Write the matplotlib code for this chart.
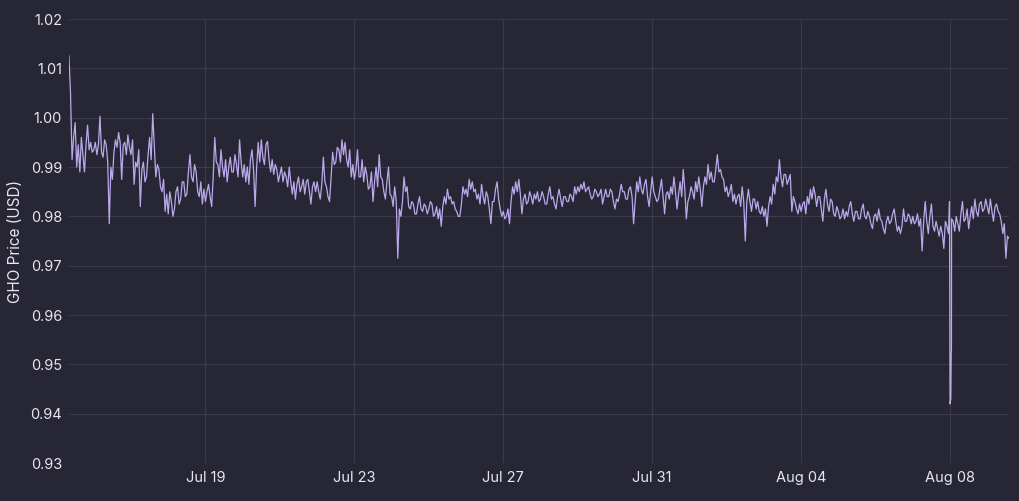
import pandas as pd
import matplotlib
matplotlib.use("Agg")
import matplotlib.pyplot as plt
import matplotlib.dates as mdates
from matplotlib.ticker import FormatStrFormatter

# GHO price, hourly readings taken off the chart (first day starts at 08:00)
jul15 = [1.0125, 1.0050, 0.9915, 0.9960, 0.9990, 0.9900, 0.9945, 0.9890,
         0.9960, 0.9925, 0.9890, 0.9945, 0.9985, 0.9935, 0.9950, 0.9930]
jul16 = [0.9935, 0.9950, 0.9925, 0.9945, 1.0003, 0.9930, 0.9920, 0.9955, 0.9945, 0.9910, 0.9785, 0.9900,
         0.9875, 0.9930, 0.9955, 0.9940, 0.9970, 0.9950, 0.9875, 0.9945, 0.9950, 0.9925, 0.9965, 0.9940]
jul17 = [0.9925, 0.9955, 0.9865, 0.9910, 0.9900, 0.9935, 0.9820, 0.9895, 0.9910, 0.9870, 0.9880, 0.9925,
         0.9960, 0.9915, 1.0008, 0.9945, 0.9880, 0.9905, 0.9895, 0.9860, 0.9850, 0.9875, 0.9810, 0.9845]
jul18 = [0.9805, 0.9850, 0.9830, 0.9800, 0.9815, 0.9850, 0.9860, 0.9825, 0.9835, 0.9870, 0.9870, 0.9840,
         0.9845, 0.9890, 0.9925, 0.9880, 0.9870, 0.9905, 0.9890, 0.9850, 0.9840, 0.9870, 0.9825, 0.9855]
jul19 = [0.9830, 0.9850, 0.9865, 0.9840, 0.9820, 0.9880, 0.9960, 0.9910, 0.9905, 0.9880, 0.9935, 0.9900,
         0.9880, 0.9915, 0.9870, 0.9900, 0.9920, 0.9890, 0.9890, 0.9925, 0.9905, 0.9880, 0.9955, 0.9910]
jul20 = [0.9880, 0.9905, 0.9870, 0.9900, 0.9865, 0.9915, 0.9935, 0.9895, 0.9820, 0.9900, 0.9950, 0.9910,
         0.9955, 0.9920, 0.9905, 0.9945, 0.9952, 0.9915, 0.9890, 0.9915, 0.9885, 0.9905, 0.9895, 0.9870]
jul21 = [0.9885, 0.9900, 0.9870, 0.9890, 0.9880, 0.9860, 0.9900, 0.9870, 0.9845, 0.9870, 0.9835, 0.9865,
         0.9880, 0.9850, 0.9860, 0.9875, 0.9845, 0.9870, 0.9875, 0.9850, 0.9825, 0.9860, 0.9870, 0.9850]
jul22 = [0.9870, 0.9850, 0.9835, 0.9865, 0.9920, 0.9870, 0.9860, 0.9840, 0.9830, 0.9880, 0.9930, 0.9905,
         0.9910, 0.9940, 0.9935, 0.9910, 0.9955, 0.9925, 0.9950, 0.9915, 0.9900, 0.9935, 0.9880, 0.9905]
jul23 = [0.9875, 0.9895, 0.9935, 0.9880, 0.9880, 0.9915, 0.9870, 0.9900, 0.9885, 0.9855, 0.9860, 0.9890,
         0.9830, 0.9870, 0.9900, 0.9860, 0.9925, 0.9880, 0.9875, 0.9850, 0.9835, 0.9870, 0.9900, 0.9845]
jul24 = [0.9840, 0.9820, 0.9860, 0.9830, 0.9715, 0.9815, 0.9800, 0.9830, 0.9880, 0.9850, 0.9860, 0.9820,
         0.9815, 0.9830, 0.9825, 0.9805, 0.9805, 0.9825, 0.9840, 0.9815, 0.9810, 0.9825, 0.9820, 0.9805]
jul25 = [0.9815, 0.9830, 0.9825, 0.9800, 0.9805, 0.9820, 0.9795, 0.9815, 0.9780, 0.9820, 0.9840, 0.9825,
         0.9855, 0.9835, 0.9840, 0.9825, 0.9830, 0.9815, 0.9810, 0.9800, 0.9800, 0.9825, 0.9860, 0.9845]
jul26 = [0.9855, 0.9840, 0.9875, 0.9855, 0.9870, 0.9850, 0.9855, 0.9835, 0.9845, 0.9825, 0.9865, 0.9840,
         0.9825, 0.9850, 0.9840, 0.9815, 0.9785, 0.9830, 0.9830, 0.9855, 0.9870, 0.9835, 0.9815, 0.9800]
jul27 = [0.9810, 0.9795, 0.9800, 0.9815, 0.9785, 0.9830, 0.9860, 0.9845, 0.9870, 0.9850, 0.9875, 0.9845,
         0.9805, 0.9835, 0.9845, 0.9825, 0.9830, 0.9850, 0.9840, 0.9825, 0.9845, 0.9835, 0.9850, 0.9830]
jul28 = [0.9835, 0.9850, 0.9840, 0.9825, 0.9825, 0.9845, 0.9860, 0.9835, 0.9840, 0.9825, 0.9815, 0.9840,
         0.9855, 0.9835, 0.9820, 0.9840, 0.9840, 0.9830, 0.9830, 0.9845, 0.9840, 0.9830, 0.9860, 0.9845]
jul29 = [0.9860, 0.9850, 0.9865, 0.9855, 0.9870, 0.9850, 0.9855, 0.9860, 0.9845, 0.9835, 0.9840, 0.9855,
         0.9850, 0.9840, 0.9845, 0.9855, 0.9825, 0.9840, 0.9855, 0.9840, 0.9840, 0.9855, 0.9850, 0.9830]
jul30 = [0.9815, 0.9835, 0.9830, 0.9845, 0.9865, 0.9850, 0.9850, 0.9835, 0.9835, 0.9855, 0.9860, 0.9840,
         0.9785, 0.9830, 0.9870, 0.9850, 0.9880, 0.9855, 0.9845, 0.9865, 0.9875, 0.9840, 0.9820, 0.9850]
jul31 = [0.9880, 0.9850, 0.9840, 0.9830, 0.9835, 0.9855, 0.9875, 0.9840, 0.9805, 0.9845, 0.9850, 0.9835,
         0.9860, 0.9845, 0.9880, 0.9850, 0.9815, 0.9845, 0.9870, 0.9840, 0.9895, 0.9855, 0.9795, 0.9830]
aug01 = [0.9840, 0.9860, 0.9850, 0.9835, 0.9870, 0.9850, 0.9880, 0.9855, 0.9820, 0.9860, 0.9880, 0.9865,
         0.9905, 0.9875, 0.9890, 0.9870, 0.9870, 0.9895, 0.9925, 0.9890, 0.9895, 0.9880, 0.9875, 0.9850]
aug02 = [0.9860, 0.9840, 0.9850, 0.9865, 0.9830, 0.9845, 0.9825, 0.9840, 0.9845, 0.9820, 0.9860, 0.9830,
         0.9750, 0.9830, 0.9855, 0.9830, 0.9810, 0.9835, 0.9835, 0.9815, 0.9830, 0.9810, 0.9805, 0.9820]
aug03 = [0.9800, 0.9815, 0.9780, 0.9820, 0.9840, 0.9825, 0.9865, 0.9845, 0.9880, 0.9870, 0.9915, 0.9880,
         0.9860, 0.9885, 0.9885, 0.9865, 0.9875, 0.9885, 0.9810, 0.9840, 0.9830, 0.9815, 0.9805, 0.9825]
aug04 = [0.9810, 0.9825, 0.9830, 0.9805, 0.9840, 0.9825, 0.9855, 0.9835, 0.9860, 0.9845, 0.9820, 0.9840,
         0.9840, 0.9815, 0.9790, 0.9835, 0.9855, 0.9825, 0.9810, 0.9835, 0.9830, 0.9805, 0.9800, 0.9820]
aug05 = [0.9810, 0.9795, 0.9800, 0.9815, 0.9795, 0.9810, 0.9800, 0.9820, 0.9830, 0.9805, 0.9790, 0.9810,
         0.9810, 0.9795, 0.9795, 0.9815, 0.9825, 0.9800, 0.9795, 0.9810, 0.9800, 0.9785, 0.9775, 0.9800]
aug06 = [0.9805, 0.9790, 0.9815, 0.9795, 0.9790, 0.9775, 0.9765, 0.9790, 0.9800, 0.9785, 0.9790, 0.9805,
         0.9815, 0.9790, 0.9770, 0.9780, 0.9765, 0.9780, 0.9815, 0.9790, 0.9790, 0.9805, 0.9800, 0.9785]
aug07 = [0.9800, 0.9785, 0.9790, 0.9805, 0.9780, 0.9795, 0.9730, 0.9790, 0.9830, 0.9790, 0.9765, 0.9800,
         0.9825, 0.9780, 0.9770, 0.9790, 0.9775, 0.9760, 0.9780, 0.9765, 0.9735, 0.9790, 0.9780, 0.9765]
aug08 = [0.9420, 0.9795, 0.9790, 0.9770, 0.9800, 0.9785, 0.9770, 0.9805, 0.9830, 0.9790, 0.9795, 0.9815,
         0.9775, 0.9800, 0.9820, 0.9795, 0.9835, 0.9810, 0.9800, 0.9825, 0.9830, 0.9810, 0.9815, 0.9835]
aug09 = [0.9820, 0.9805, 0.9835, 0.9810, 0.9790, 0.9820, 0.9825, 0.9810, 0.9805, 0.9790, 0.9765, 0.9785,
         0.9715, 0.9760, 0.9755]

# extra readings around the depeg on Aug 08
dip_times = ["2024-08-07 23:40", "2024-08-08 00:30", "2024-08-08 00:45", "2024-08-08 00:55"]
dip_prices = [0.9830, 0.9430, 0.9520, 0.9530]

y_ticks = [0.93, 0.94, 0.95, 0.96, 0.97, 0.98, 0.99, 1.00, 1.01, 1.02]
x_tick_dates = ["2024-07-19", "2024-07-23", "2024-07-27", "2024-07-31", "2024-08-04", "2024-08-08"]

prices = (jul15 + jul16 + jul17 + jul18 + jul19 + jul20 + jul21 + jul22 + jul23 + jul24 + jul25 + jul26 + jul27
          + jul28 + jul29 + jul30 + jul31 + aug01 + aug02 + aug03 + aug04 + aug05 + aug06 + aug07 + aug08 + aug09)
df = pd.DataFrame({
    "time": pd.date_range("2024-07-15 08:00", periods=len(prices), freq="h"),
    "price": prices,
})
df_dip = pd.DataFrame({"time": pd.to_datetime(dip_times), "price": dip_prices})
df = pd.concat([df, df_dip]).sort_values("time").reset_index(drop=True)

bg = "#272634"
text_col = "#e6e6ec"
grid_col = "#3b3a4a"

plt.rcParams["font.family"] = ["Inter", "DejaVu Sans"]

fig = plt.figure(figsize=(10.2, 5.01), dpi=100, facecolor=bg)
ax = fig.add_axes([0.0676, 0.0758, 0.9216, 0.8862], facecolor=bg)

ax.plot(df["time"], df["price"], color="#bba9ec", linewidth=0.9)

ax.set_ylim(0.93, 1.02)
ax.set_yticks(y_ticks)
ax.yaxis.set_major_formatter(FormatStrFormatter("%.2f"))
ax.set_xlim(df["time"].iloc[0], df["time"].iloc[-1])
ax.set_xticks(pd.to_datetime(x_tick_dates))
ax.xaxis.set_major_formatter(mdates.DateFormatter("%b %d"))

ax.grid(True, color=grid_col, linewidth=0.8)
ax.set_axisbelow(True)
for s in ax.spines.values():
    s.set_visible(False)
ax.tick_params(axis="both", length=0, colors=text_col, labelsize=10.5)
ax.tick_params(axis="y", pad=5)
ax.tick_params(axis="x", pad=6)

ax.set_ylabel("GHO Price (USD)", color=text_col, fontsize=11, labelpad=5)

fig.savefig("out.png", dpi=100, facecolor=bg)
